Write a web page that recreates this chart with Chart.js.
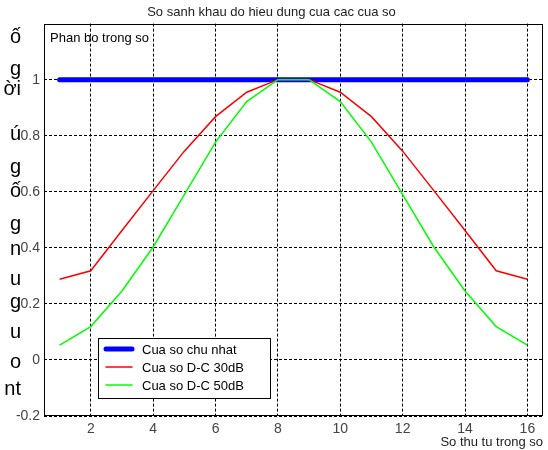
<!DOCTYPE html>
<html>
<head>
<meta charset="utf-8">
<script src="https://cdn.jsdelivr.net/npm/chart.js@4"></script>
<style>
  html, body { margin: 0; padding: 0; background: #fff; }
  #wrap { width: 548px; height: 450px; position: relative; }
</style>
</head>
<body>
<div id="wrap"><canvas id="chartOne" width="548" height="450"></canvas></div>
<script>
// data
let weightIndex = [1,2,3,4,5,6,7,8,9,10,11,12,13,14,15,16];
let rectWindow = [1,1,1,1,1,1,1,1,1,1,1,1,1,1,1,1];
let dc30 = [0.288,0.318,0.462,0.604,0.745,0.868,0.955,1,1,0.955,0.868,0.745,0.604,0.462,0.318,0.288];
let dc50 = [0.053,0.119,0.246,0.403,0.59,0.777,0.922,1,1,0.922,0.777,0.59,0.403,0.246,0.119,0.053];
let seriesNames = ['Cua so chu nhat','Cua so D-C 30dB','Cua so D-C 50dB'];
let xTicks = [2,4,6,8,10,12,14,16];
let yTicks = [-0.2,0,0.2,0.4,0.6,0.8,1];
let yTickLabels = ['-0.2','0','0.2','0.4','0.6','0.8','1'];
// clipped words from the page beside the figure
let sideText = ['ố','g','ời','ú','g','ố','g','n','u','g','u','o','nt'];
let sideBase = [43,75,95,140,173,197,230,255,285,308,338,368,395];

let fontFam = 'Arial, "Liberation Sans", sans-serif';

function pts(ys){
    let out=[];
    for(i in weightIndex){
        out.push({x:weightIndex[i], y:ys[i]});
    }
    return out;
}

let extras = {
    id:'extras',
    afterDraw(chart){
        let ctx = chart.ctx;
        let a = chart.chartArea;
        ctx.save();
        // box round the plot
        ctx.strokeStyle = '#000';
        ctx.lineWidth = 1;
        ctx.setLineDash([]);
        ctx.strokeRect(Math.round(a.left)+0.5, Math.round(a.top)+0.5, Math.round(a.right-a.left)-1, Math.round(a.bottom-a.top)-1);

        ctx.fillStyle = '#000';
        ctx.font = '13px ' + fontFam;
        ctx.textAlign = 'left';
        ctx.textBaseline = 'alphabetic';
        ctx.fillText('Phan bo trong so', a.left+6, a.top+18);

        // legend inside the plot
        let lx = a.left + 54, ly = a.bottom - 78, lw = 172, lh = 60;
        ctx.fillStyle = '#fff';
        ctx.fillRect(lx, ly, lw, lh);
        ctx.strokeStyle = '#000';
        ctx.strokeRect(lx+0.5, ly+0.5, lw, lh);
        let ds = chart.data.datasets;
        for(let k=0;k<ds.length;k++){
            let yy = ly + 11 + k*18;
            ctx.beginPath();
            ctx.strokeStyle = ds[k].borderColor;
            ctx.lineWidth = ds[k].borderWidth;
            ctx.lineCap = 'round';
            ctx.moveTo(lx+8, yy);
            ctx.lineTo(lx+34, yy);
            ctx.stroke();
            ctx.fillStyle = '#000';
            ctx.font = '13px ' + fontFam;
            ctx.textBaseline = 'middle';
            ctx.fillText(ds[k].label, lx+44, yy+1);
        }

        ctx.font = '20px ' + fontFam;
        ctx.textAlign = 'right';
        ctx.textBaseline = 'alphabetic';
        ctx.fillStyle = '#000';
        for(let k=0;k<sideText.length;k++){
            ctx.fillText(sideText[k], 21, sideBase[k]);
        }
        ctx.restore();
    }
};

let cv = document.getElementById('chartOne').getContext('2d');

let oneChart = new Chart(cv,{
    type:'line',
    data:{
        datasets:[{
            label:seriesNames[0],
            data:pts(rectWindow),
            borderColor:'#0000ff',
            borderWidth:5,
            borderCapStyle:'round',
            pointRadius:0,
            order:3
        },{
            label:seriesNames[1],
            data:pts(dc30),
            borderColor:'#ff0000',
            borderWidth:1.5,
            pointRadius:0,
            order:2
        },{
            label:seriesNames[2],
            data:pts(dc50),
            borderColor:'#00ff00',
            borderWidth:1.5,
            pointRadius:0,
            order:1
        }]
    },
    options:{
        responsive:false,
        animation:false,
        devicePixelRatio:1,
        layout:{padding:{left:0,right:5,top:0,bottom:0}},
        plugins:{
            legend:{display:false},
            tooltip:{enabled:false},
            title:{
                display:true,
                text:'So sanh khau do hieu dung cua cac cua so',
                color:'#222',
                font:{family:fontFam,size:13,weight:'normal'},
                padding:{top:5,bottom:3}
            }
        },
        scales:{
            x:{
                type:'linear',
                min:0.5,
                max:16.5,
                afterBuildTicks(s){ s.ticks = xTicks.map(v=>({value:v})); },
                afterFit(s){ s.height = 34; },
                grid:{color:'#000',lineWidth:1,drawTicks:false},
                border:{display:false,dash:[3,2]},
                ticks:{color:'#444',font:{family:fontFam,size:14},padding:5,maxRotation:0},
                title:{
                    display:true,
                    text:'So thu tu trong so',
                    align:'end',
                    color:'#222',
                    font:{family:fontFam,size:13},
                    padding:{top:0,bottom:0}
                }
            },
            y:{
                min:-0.2,
                max:1.2,
                afterBuildTicks(s){ s.ticks = yTicks.map(v=>({value:v})); },
                afterFit(s){ s.width = 44; },
                grid:{color:'#000',lineWidth:1,drawTicks:false},
                border:{display:false,dash:[3,2]},
                ticks:{
                    color:'#444',font:{family:fontFam,size:14},padding:4,
                    callback:(v,idx)=>yTickLabels[idx]
                }
            }
        }
    },
    plugins:[extras]
});
</script>
</body>
</html>
